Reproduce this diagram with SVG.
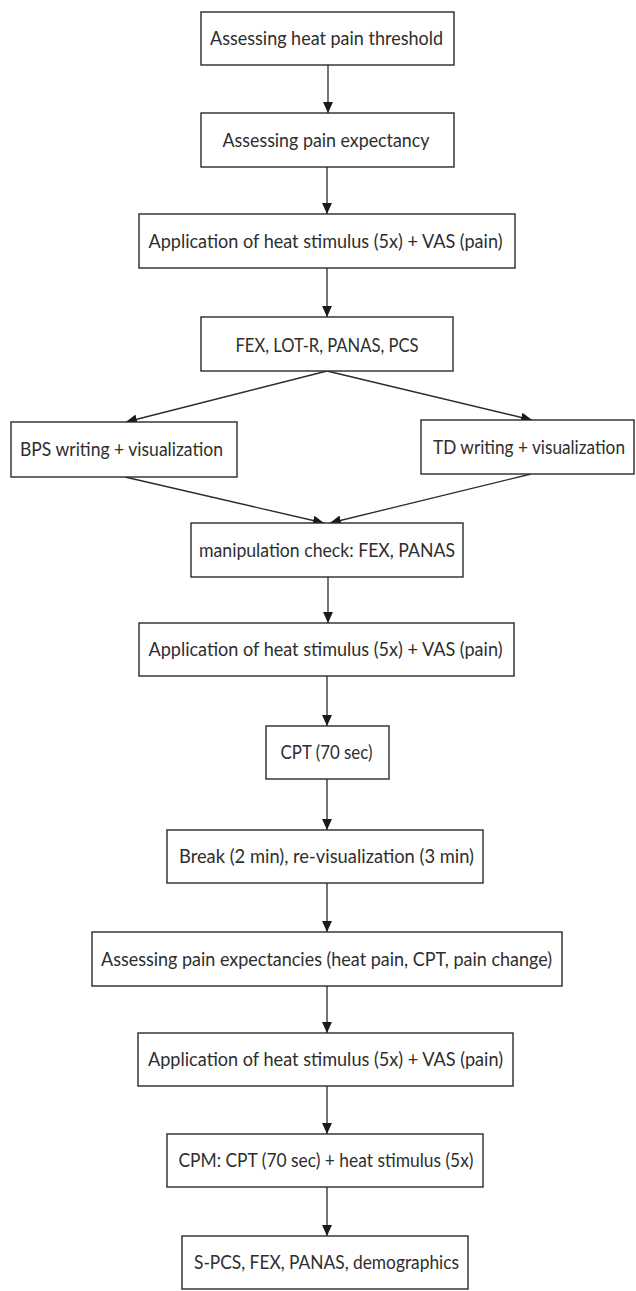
<svg xmlns="http://www.w3.org/2000/svg" width="636" height="1291" viewBox="0 0 636 1291">
<defs>
<style>
.box{fill:#fff;stroke:#2a2a2a;stroke-width:1.4}
.t{font-family:Lato,"Liberation Sans",sans-serif;font-size:18.5px;fill:#2e2e2e;text-anchor:middle}
.c{stroke:#2a2a2a;stroke-width:1.3;fill:none;marker-end:url(#ah)}
</style>
<marker id="ah" markerUnits="userSpaceOnUse" markerWidth="11" markerHeight="11" refX="10" refY="5" orient="auto" viewBox="0 0 10 10">
<path d="M0,0.5 L10,5 L0,9.5 z" fill="#1a1a1a"/>
</marker>
</defs>
<rect width="636" height="1291" fill="#fff"/>
<g id="connectors">
<line class="c" x1="328" y1="65" x2="328" y2="113"/>
<line class="c" x1="327" y1="167" x2="327" y2="214"/>
<line class="c" x1="327" y1="268" x2="327" y2="317"/>
<line class="c" x1="327" y1="371" x2="126" y2="422"/>
<line class="c" x1="327" y1="371" x2="532" y2="420"/>
<line class="c" x1="125" y1="477" x2="324" y2="523"/>
<line class="c" x1="531" y1="474" x2="330" y2="523"/>
<line class="c" x1="328" y1="577" x2="328" y2="623"/>
<line class="c" x1="327" y1="676" x2="327" y2="726"/>
<line class="c" x1="327" y1="779" x2="327" y2="830"/>
<line class="c" x1="327" y1="883" x2="327" y2="932"/>
<line class="c" x1="327" y1="986" x2="327" y2="1033"/>
<line class="c" x1="327" y1="1086" x2="327" y2="1134"/>
<line class="c" x1="327" y1="1187" x2="327" y2="1236"/>
</g>
<g id="n1"><rect class="box" x="201" y="12" width="253" height="53"/><text class="t" x="326.5" y="45" textLength="233" lengthAdjust="spacingAndGlyphs">Assessing heat pain threshold</text></g>
<g id="n2"><rect class="box" x="201" y="113" width="253" height="54"/><text class="t" x="326" y="147" textLength="207" lengthAdjust="spacingAndGlyphs">Assessing pain expectancy</text></g>
<g id="n3"><rect class="box" x="139" y="214" width="376" height="54"/><text class="t" x="325.5" y="248" textLength="354" lengthAdjust="spacingAndGlyphs">Application of heat stimulus (5x) + VAS (pain)</text></g>
<g id="n4"><rect class="box" x="201" y="317" width="252" height="54"/><text class="t" x="327" y="352" textLength="183" lengthAdjust="spacingAndGlyphs">FEX, LOT-R, PANAS, PCS</text></g>
<g id="n5"><rect class="box" x="11" y="422" width="226" height="55"/><text class="t" x="121.5" y="456" textLength="203" lengthAdjust="spacingAndGlyphs">BPS writing + visualization</text></g>
<g id="n6"><rect class="box" x="421" y="420" width="213" height="54"/><text class="t" x="529" y="454" textLength="192" lengthAdjust="spacingAndGlyphs">TD writing + visualization</text></g>
<g id="n7"><rect class="box" x="191" y="523" width="272" height="54"/><text class="t" x="327" y="557" textLength="256" lengthAdjust="spacingAndGlyphs">manipulation check: FEX, PANAS</text></g>
<g id="n8"><rect class="box" x="139" y="623" width="375" height="53"/><text class="t" x="325.5" y="656" textLength="354" lengthAdjust="spacingAndGlyphs">Application of heat stimulus (5x) + VAS (pain)</text></g>
<g id="n9"><rect class="box" x="266" y="726" width="123" height="53"/><text class="t" x="326.5" y="759" textLength="92" lengthAdjust="spacingAndGlyphs">CPT (70 sec)</text></g>
<g id="n10"><rect class="box" x="167" y="830" width="316" height="53"/><text class="t" x="326.5" y="863" textLength="295" lengthAdjust="spacingAndGlyphs">Break (2 min), re-visualization (3 min)</text></g>
<g id="n11"><rect class="box" x="92" y="932" width="470" height="54"/><text class="t" x="326.5" y="966" textLength="451" lengthAdjust="spacingAndGlyphs">Assessing pain expectancies (heat pain, CPT, pain change)</text></g>
<g id="n12"><rect class="box" x="138" y="1033" width="375" height="53"/><text class="t" x="325.5" y="1066" textLength="355" lengthAdjust="spacingAndGlyphs">Application of heat stimulus (5x) + VAS (pain)</text></g>
<g id="n13"><rect class="box" x="167" y="1134" width="316" height="53"/><text class="t" x="326" y="1167" textLength="295" lengthAdjust="spacingAndGlyphs">CPM: CPT (70 sec) + heat stimulus (5x)</text></g>
<g id="n14"><rect class="box" x="182" y="1236" width="286" height="53"/><text class="t" x="326.5" y="1269" textLength="265" lengthAdjust="spacingAndGlyphs">S-PCS, FEX, PANAS, demographics</text></g>
</svg>
